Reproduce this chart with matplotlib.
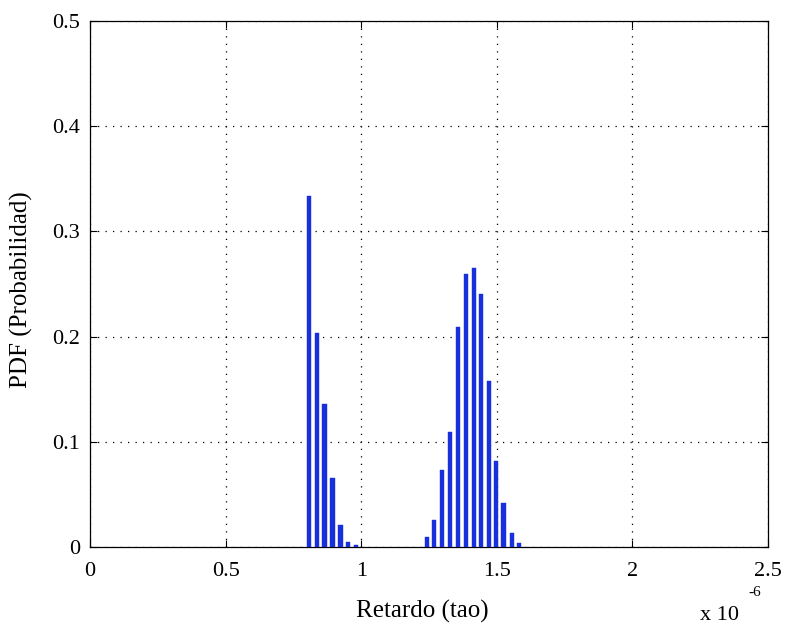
import matplotlib
matplotlib.use("Agg")
import matplotlib.pyplot as plt
import numpy as np

# Bin centres (in units of 1e-6 s) and probabilities
centers_a = [0.8075, 0.837, 0.865, 0.8945, 0.924, 0.952, 0.982]
pdf_a = [0.3337, 0.2037, 0.1356, 0.0659, 0.0209, 0.0045, 0.0019]
centers_b = [1.2415, 1.2696, 1.299, 1.327, 1.356, 1.385, 1.415, 1.443,
             1.472, 1.498, 1.525, 1.555, 1.582]
pdf_b = [0.0092, 0.0257, 0.0732, 0.109, 0.2088, 0.2592, 0.265, 0.2402,
         0.1578, 0.082, 0.0421, 0.0136, 0.0035]
xticks = [0, 0.5, 1, 1.5, 2, 2.5]
xticklabels = ["0", "0.5", "1", "1.5", "2", "2.5"]
yticks = [0, 0.1, 0.2, 0.3, 0.4, 0.5]
yticklabels = ["0", "0.1", "0.2", "0.3", "0.4", "0.5"]

plt.rcParams['font.family'] = ['Liberation Serif', 'DejaVu Serif']

fig = plt.figure(figsize=(7.88, 6.30), dpi=100)
ax = fig.add_axes([90/788, 1-547/630, (768-90)/788, (547-21)/630])

scale = 1e-6
centers = np.array(centers_a + centers_b) * scale
pdf = np.array(pdf_a + pdf_b)
width = 0.0155 * scale
ax.bar(centers, pdf, width=width, color='#1830dc', edgecolor='#1830dc', linewidth=0.3, zorder=3)

ax.set_xlim(0, 2.5 * scale)
ax.set_ylim(0, 0.5)
ax.set_xticks(np.array(xticks) * scale)
ax.set_xticklabels(xticklabels, fontsize=16)
ax.set_yticks(yticks)
ax.set_yticklabels(yticklabels, fontsize=16)
ax.tick_params(direction='in', top=True, right=True, length=5, width=0.8)
ax.tick_params(axis='x', pad=11)
ax.tick_params(axis='y', pad=7)
ax.grid(True, linestyle=(0, (1, 5)), color='black', linewidth=0.9, zorder=1)
for s in ax.spines.values():
    s.set_linewidth(0.9)

ax.set_xlabel("Retardo (tao)", fontsize=18)
ax.set_ylabel("PDF (Probabilidad)", fontsize=18)
ax.xaxis.set_label_coords(0.49, -0.1)
ax.yaxis.set_label_coords(-0.084, 0.49)

fig.text(700/788, 1-615/630, "x 10", fontsize=16, va='center', ha='left')
fig.text(748/788, 1-592/630, "-6", fontsize=11, va='center', ha='left')

fig.savefig("out.png", dpi=100, facecolor='white')
